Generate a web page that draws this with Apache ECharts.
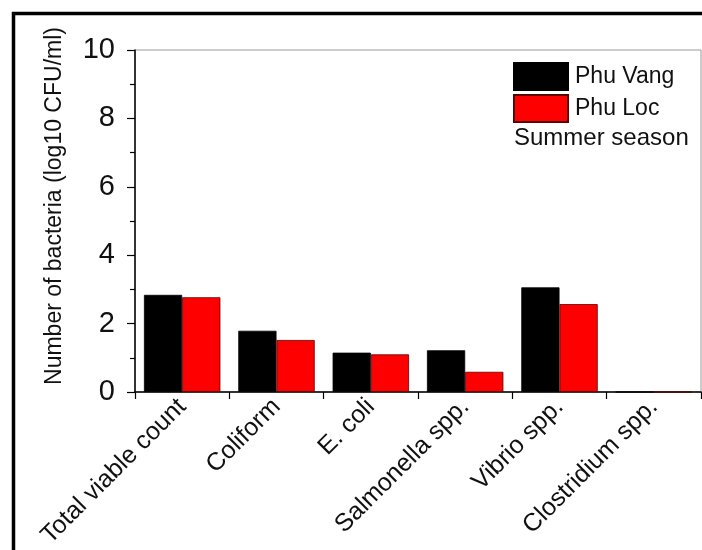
<!DOCTYPE html>
<html>
<head>
<meta charset="utf-8">
<script src="https://cdn.jsdelivr.net/npm/echarts@6/dist/echarts.min.js"></script>
<style>
html,body{margin:0;padding:0;background:#fff;}
#c{width:702px;height:550px;}
</style>
</head>
<body>
<div id="c"></div>
<script>
var categories = ['Total viable count', 'Coliform', 'E. coli', 'Salmonella spp.', 'Vibrio spp.', 'Clostridium spp.'];
var phuVang = [2.84, 1.79, 1.15, 1.22, 3.06, 0];
var phuLoc = [2.77, 1.52, 1.10, 0.59, 2.57, 0];
var seriesNames = ['Phu Vang', 'Phu Loc'];
var yTicks = [0, 2, 4, 6, 8, 10];
var yTitle = 'Number of bacteria (log10 CFU/ml)';
var note = 'Summer season';

var FONT = 'Arial, "Liberation Sans", sans-serif';
var TICK_DEPTH = -0.23; // center tick length expressed in axis units
var centerTicks = categories.map(function (c) {
  return [{ coord: [c, 0] }, { coord: [c, TICK_DEPTH] }];
});

var chart = echarts.init(document.getElementById('c'));
chart.setOption({
  backgroundColor: '#fff',
  animation: false,
  grid: { left: 135, right: 1, top: 50, bottom: 158, containLabel: false, outerBoundsMode: 'none', show: true, borderColor: '#999', borderWidth: 1 },
  legend: {
    data: seriesNames,
    orient: 'vertical',
    left: 513, top: 62,
    padding: 0,
    itemWidth: 54, itemHeight: 27, itemGap: 3,
    icon: 'rect',
    textStyle: { fontSize: 23, fontFamily: FONT, color: '#111', padding: [4, 0, 0, 2] }
  },
  xAxis: {
    type: 'category',
    data: categories,
    axisLine: { lineStyle: { color: '#000', width: 1.5 } },
    axisTick: { show: true, interval: 0, length: 7, lineStyle: { color: '#000', width: 1.2 } },
    axisLabel: { interval: 0, rotate: 45, fontSize: 25, fontFamily: FONT, color: '#111', margin: 11, padding: [12, 0, 0, 0] }
  },
  yAxis: {
    type: 'value',
    min: yTicks[0], max: yTicks[yTicks.length - 1], interval: 2,
    axisLine: { show: true, lineStyle: { color: '#000', width: 1.5 } },
    axisTick: { show: true, length: 8, lineStyle: { color: '#000', width: 1.2 } },
    minorTick: { show: true, splitNumber: 2, length: 5, lineStyle: { color: '#000', width: 1.2 } },
    splitLine: { show: false },
    axisLabel: { fontSize: 29, fontFamily: FONT, color: '#111', margin: 20 }
  },
  series: [{
    name: seriesNames[0], type: 'bar', data: phuVang,
    barGap: '0%', barCategoryGap: '19%',
    itemStyle: { color: '#000', borderColor: '#000', borderWidth: 0.8 }
  }, {
    name: seriesNames[1], type: 'bar', data: phuLoc,
    barGap: '0%', barCategoryGap: '19%',
    itemStyle: { color: '#ff0000', borderColor: '#5a0000', borderWidth: 0.8 }
  }, {
    name: 'tickHelper', type: 'line', data: phuVang,
    symbol: 'none', silent: true, lineStyle: { opacity: 0 }, tooltip: { show: false },
    markLine: {
      silent: true, animation: false,
      symbol: ['none', 'none'],
      label: { show: false },
      lineStyle: { color: '#000', width: 1.3, type: 'solid' },
      emphasis: { disabled: true },
      data: centerTicks
    }
  }],
  graphic: [
    { type: 'rect', shape: { x: 13.5, y: 13.5, width: 1000, height: 1000 }, style: { fill: 'none', stroke: '#000', lineWidth: 3.5 }, z: 100 },
    { type: 'text', x: 55, y: 206, rotation: Math.PI / 2, style: { text: yTitle, fontSize: 23, fontFamily: FONT, fill: '#111', align: 'center', verticalAlign: 'middle' } },
    { type: 'text', x: 514, y: 138, style: { text: note, fontSize: 24, fontFamily: FONT, fill: '#111', align: 'left', verticalAlign: 'middle' } }
  ]
});
</script>
</body>
</html>
